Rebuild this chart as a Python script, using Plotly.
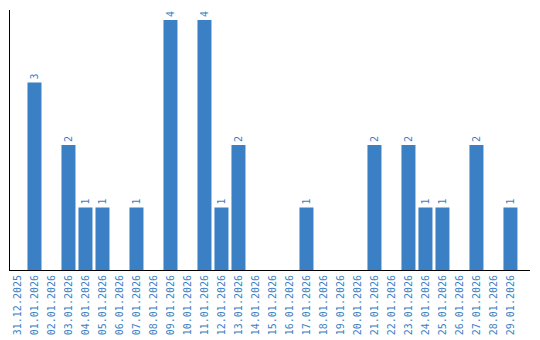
import plotly.graph_objects as go

dates = ["31.12.2025", "01.01.2026", "02.01.2026", "03.01.2026", "04.01.2026",
         "05.01.2026", "06.01.2026", "07.01.2026", "08.01.2026", "09.01.2026",
         "10.01.2026", "11.01.2026", "12.01.2026", "13.01.2026", "14.01.2026",
         "15.01.2026", "16.01.2026", "17.01.2026", "18.01.2026", "19.01.2026",
         "20.01.2026", "21.01.2026", "22.01.2026", "23.01.2026", "24.01.2026",
         "25.01.2026", "26.01.2026", "27.01.2026", "28.01.2026", "29.01.2026"]
counts = [0, 3, 0, 2, 1, 1, 0, 1, 0, 4, 0, 4, 1, 2, 0,
          0, 0, 1, 0, 0, 0, 2, 0, 2, 1, 1, 0, 2, 0, 1]

blue = "#3b7fc4"
labels = [str(v) if v else "" for v in counts]

fig = go.Figure(go.Bar(
    x=list(range(len(dates))), y=counts,
    marker=dict(color=blue, line=dict(width=0)),
    width=14/17,
    text=labels, textposition="outside", textangle=-90,
    textfont=dict(family="DejaVu Sans Mono", size=10, color=blue),
    cliponaxis=False,
))

fig.update_layout(
    width=540, height=340,
    margin=dict(l=10, r=10, t=10, b=70),
    paper_bgcolor="white", plot_bgcolor="white",
    showlegend=False,
    xaxis=dict(
        tickmode="array", tickvals=list(range(len(dates))), ticktext=dates,
        tickangle=-90, range=[-0.44, 30.15], automargin=False,
        tickfont=dict(family="DejaVu Sans Mono", size=10, color=blue),
        showline=True, linecolor="black", linewidth=1,
        showgrid=False, zeroline=False, ticks="", ticklen=0,
    ),
    yaxis=dict(
        range=[0, 4.16], showticklabels=False, showgrid=False, automargin=False,
        zeroline=False, showline=True, linecolor="black", linewidth=1, ticks="",
    ),
)

fig.write_html("out.html")
